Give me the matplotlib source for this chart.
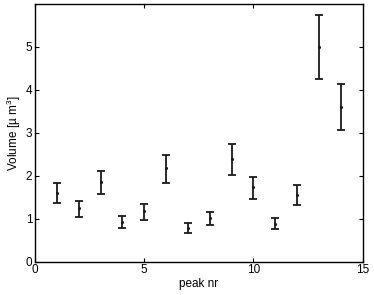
import matplotlib
matplotlib.use("Agg")
import matplotlib.pyplot as plt
import numpy as np

peak = [1, 2, 3, 4, 5, 6, 7, 8, 9, 10, 11, 12, 13, 14]
volume = [1.60, 1.24, 1.85, 0.93, 1.18, 2.17, 0.78, 1.01, 2.39, 1.74, 0.88, 1.55, 5.00, 3.60]
upper = [1.84, 1.41, 2.12, 1.06, 1.35, 2.49, 0.91, 1.16, 2.74, 1.98, 1.02, 1.79, 5.75, 4.13]
lower = [1.36, 1.05, 1.57, 0.78, 0.98, 1.84, 0.67, 0.86, 2.02, 1.47, 0.76, 1.32, 4.25, 3.06]
xticks = [0, 5, 10, 15]
yticks = [0, 1, 2, 3, 4, 5]

plt.rcParams['font.family'] = ['Liberation Sans', 'DejaVu Sans']
plt.rcParams['mathtext.fontset'] = 'custom'
plt.rcParams['mathtext.rm'] = 'Liberation Sans'

fig = plt.figure(figsize=(3.74, 2.95), dpi=100)
ax = fig.add_axes([0.0936, 0.1129, 0.8762, 0.8735])

v = np.array(volume)
yerr = [v - np.array(lower), np.array(upper) - v]
ax.errorbar(peak, volume, yerr=yerr, fmt='.', color='#1a1a1a', ecolor='#1a1a1a',
            markersize=2.5, elinewidth=1.3, capsize=2.6, capthick=1.3)

ax.set_xlim(0, 15)
ax.set_ylim(0, 6)
ax.set_xticks(xticks)
ax.set_yticks(yticks)
ax.tick_params(direction='in', top=True, right=True, length=3, width=0.8,
               labelsize=8.5, pad=2)
for s in ax.spines.values():
    s.set_linewidth(1.0)
ax.set_xlabel('peak nr', fontsize=8.5, labelpad=1)
ax.set_ylabel('Volume [µ m$^{3}$]', fontsize=8.5, labelpad=2)

fig.savefig('out.png', dpi=100)
